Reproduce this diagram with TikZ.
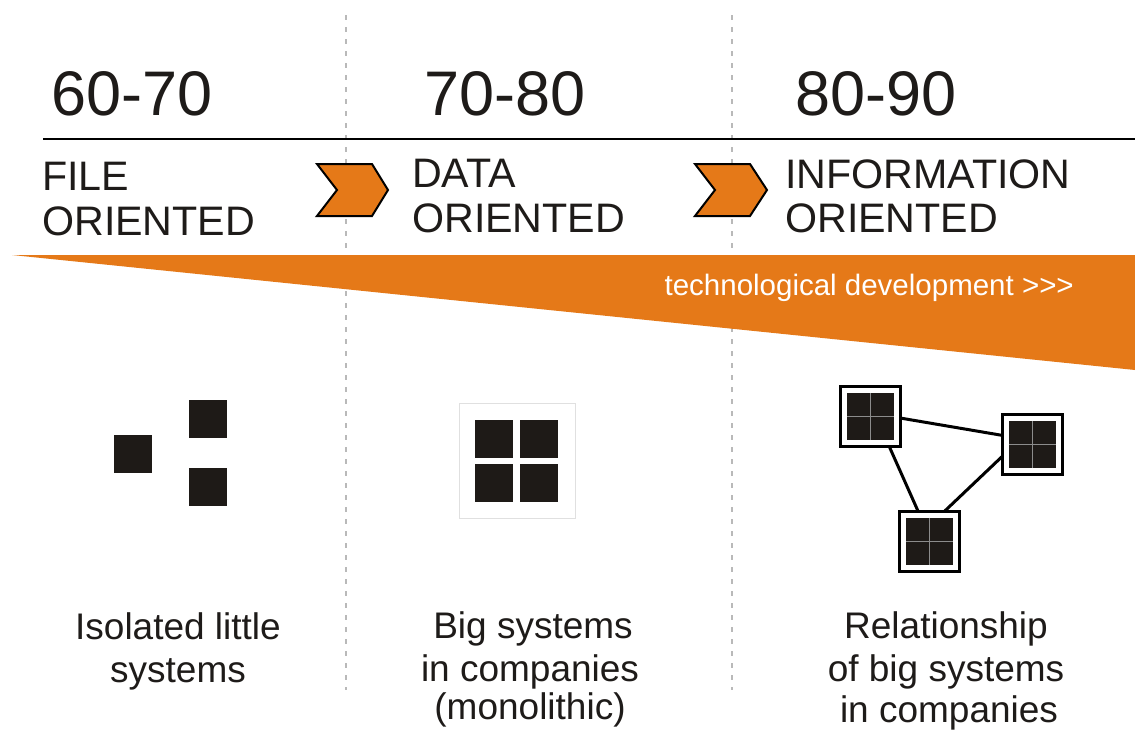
\documentclass[tikz,border=0pt]{standalone}
\usepackage{fontspec}
\setmainfont{Liberation Sans}
\usetikzlibrary{calc}

\definecolor{accent}{RGB}{229,121,24}
\definecolor{ink}{RGB}{30,27,25}
\definecolor{sysfill}{RGB}{30,26,23}
\definecolor{guide}{RGB}{185,185,185}

\tikzset{
  year/.style={anchor=base west, inner sep=0pt, text=ink, font=\fontsize{63pt}{63pt}\selectfont},
  era/.style={anchor=base west, inner sep=0pt, text=ink, font=\fontsize{41.2pt}{45pt}\selectfont},
  caption/.style={anchor=base, inner sep=0pt, text=ink, font=\fontsize{37pt}{43pt}\selectfont},
  guideline/.style={draw=guide, line width=1.6pt, dash pattern=on 5pt off 7pt},
  chevron/.style={fill=accent, draw=black, line width=2pt, line join=miter},
  block/.style={fill=sysfill, inner sep=0pt, outer sep=0pt, minimum size=38pt},
  frame/.style={draw=black!12, line width=0.8pt, inner sep=0pt, minimum width=116pt, minimum height=115pt},
  sysbox/.style={draw=black, line width=3pt, fill=white, inner sep=0pt, outer sep=0pt, minimum size=60pt,
    path picture={
      \fill[sysfill] ($(path picture bounding box.center)+(-23.5,-23.5)$) rectangle ($(path picture bounding box.center)+(23.5,23.5)$);
      \draw[black!45, line width=1pt] ($(path picture bounding box.center)+(-23.5,0)$) -- ($(path picture bounding box.center)+(23.5,0)$);
      \draw[black!45, line width=1pt] ($(path picture bounding box.center)+(0,-23.5)$) -- ($(path picture bounding box.center)+(0,23.5)$);
    }},
  link/.style={draw=black, line width=3pt},
}

\begin{document}
\begin{tikzpicture}[x=1pt, y=-1pt]
  % canvas
  \fill[white] (0,0) rectangle (1135,731);
  \useasboundingbox (0,0) rectangle (1135,731);

  % period separators
  \draw[guideline] (346,15) -- (346,690);
  \draw[guideline] (732,15) -- (732,690);

  % decades
  \node[year] (y1) at (51,115) {60-70};
  \node[year] (y2) at (424,115) {70-80};
  \node[year] (y3) at (795,115) {80-90};

  % timeline rule
  \draw[black, line width=2pt] (43,139) -- (1135,139);

  % orientation labels
  \node[era] (e1a) at (42,190) {FILE};
  \node[era] (e1b) at (42,235) {ORIENTED};
  \node[era] (e2a) at (412,187) {DATA};
  \node[era] (e2b) at (412,232) {ORIENTED};
  \node[era] (e3a) at (785,188) {INFORMATION};
  \node[era] (e3b) at (785,232) {ORIENTED};

  % chevrons between eras
  \draw[chevron] (317,164) -- (372,164) -- (388,190) -- (372,216) -- (317,216) -- (337,190) -- cycle;
  \draw[chevron] (695,164) -- (750,164) -- (767,190) -- (750,216) -- (695,216) -- (715,190) -- cycle;

  % growth wedge
  \fill[accent] (12,255) -- (1135,255) -- (1135,370) -- cycle;
  \node[anchor=base east, inner sep=0pt, text=white, font=\fontsize{29.5pt}{30pt}\selectfont]
    (dev) at (1074,295) {technological development >{}>{}>};

  % isolated systems
  \node[block] (s1) at (133,453.5) {};
  \node[block] (s2) at (207.5,419) {};
  \node[block] (s3) at (207.5,486.5) {};

  % monolithic system
  \node[frame] (mono) at (517,460.5) {};
  \node[block] (m1) at (494,438.5) {};
  \node[block] (m2) at (539,438.5) {};
  \node[block] (m3) at (494,483) {};
  \node[block] (m4) at (539,483) {};

  % related systems
  \node[sysbox] (A) at (870.5,416.5) {};
  \node[sysbox] (B) at (1032,444.5) {};
  \node[sysbox] (C) at (929.5,541) {};
  \draw[link] (A.357) -- (B.163);
  \draw[link] (A.302) -- (C.111);
  \draw[link] (B.202) -- (C.63);

  % captions
  \node[caption] (c1a) at (178,639) {Isolated little};
  \node[caption] (c1b) at (178,682) {systems};
  \node[caption] (c2a) at (533,638) {Big systems};
  \node[caption] (c2b) at (530,681) {in companies};
  \node[caption] (c2c) at (530,719) {(monolithic)};
  \node[caption] (c3a) at (946,638) {Relationship};
  \node[caption] (c3b) at (946,681) {of big systems};
  \node[caption] (c3c) at (949,722) {in companies};
\end{tikzpicture}
\end{document}
